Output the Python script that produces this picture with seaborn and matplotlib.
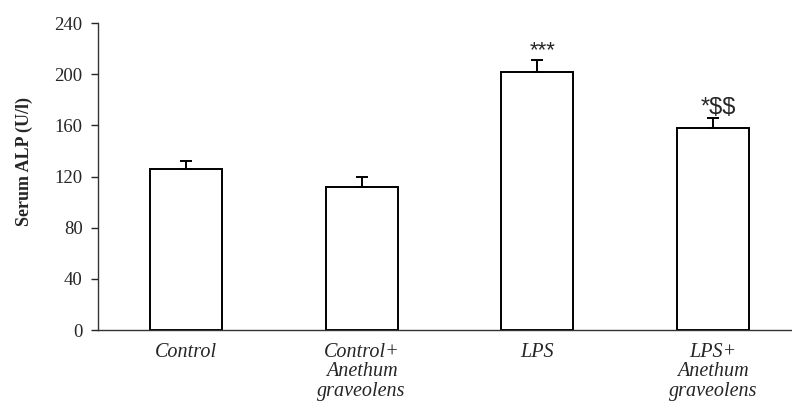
import numpy as np
import pandas as pd
import matplotlib
matplotlib.use("Agg")
import matplotlib.pyplot as plt
import seaborn as sns

# Werte
groups = ["Control", "Control+\nAnethum\ngraveolens", "LPS", "LPS+\nAnethum\ngraveolens"]
alp_mean = [126, 112, 202, 158]
alp_sem = [6, 7.5, 9, 8]
signif = ["", "", "***", "*$$"]

df = pd.DataFrame({"group": groups, "alp": alp_mean})

sns.set_style("ticks")
plt.rcParams['font.family'] = ['Liberation Serif', 'DejaVu Serif']

fig = plt.figure(figsize=(7.92, 4.01), dpi=100)
ax = fig.add_axes([0.1237, 0.177, 0.8763, 0.7656])

sns.barplot(data=df, x="group", y="alp", color="white", edgecolor="black",
            linewidth=1.4, width=0.41, errorbar=None, ax=ax)

# nur obere Fehlerbalken
xpos = np.arange(len(groups))
ax.errorbar(xpos, alp_mean, yerr=[np.zeros(len(alp_sem)), alp_sem], fmt="none",
            ecolor="black", elinewidth=1.4, capsize=4.3, capthick=1.4)

for x, m, s, lab in zip(xpos, alp_mean, alp_sem, signif):
    if lab:
        ax.text(x + 0.03, m + s - 1.0, lab, ha="center", va="bottom",
                parse_math=False, fontfamily="Liberation Sans",
                fontsize=17 if "$" in lab else 16)

ax.set_ylim(0, 240)
ax.set_yticks(np.arange(0, 241, 40))
ax.set_xlim(-0.5, 3.45)
ax.set_xlabel("")
ax.set_ylabel("Serum ALP (U/l)", fontsize=13, fontweight="bold")
ax.yaxis.set_label_coords(-0.094, 0.55)
ax.tick_params(axis="y", labelsize=13.5, length=5, width=1, direction="out", pad=6)
ax.tick_params(axis="x", length=0, labelsize=14.5, pad=9)
for t in ax.get_xticklabels():
    t.set_fontstyle("italic")
    t.set_linespacing(1.06)
sns.despine(ax=ax)
for sp in ["left", "bottom"]:
    ax.spines[sp].set_linewidth(1.0)
    ax.spines[sp].set_color("#333333")

fig.savefig("out.png", dpi=100)
